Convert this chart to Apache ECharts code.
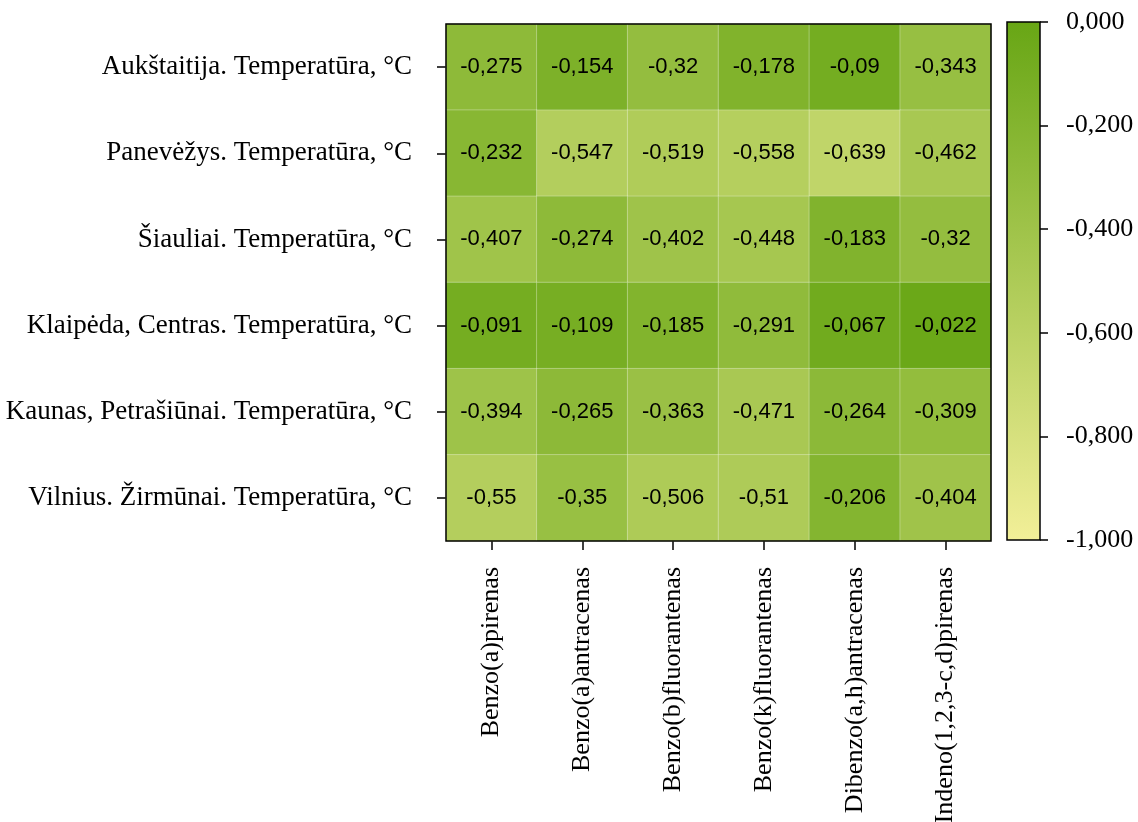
<!DOCTYPE html>
<html>
<head>
<meta charset="utf-8">
<script src="https://cdn.jsdelivr.net/npm/echarts@6/dist/echarts.min.js"></script>
<style>
  html, body { margin: 0; padding: 0; background: #fff; }
  #chart { width: 1138px; height: 822px; }
</style>
</head>
<body>
<div id="chart"></div>
<script>
// stočių eilutės (iš viršaus į apačią)
const stations = [
  "Aukštaitija. Temperatūra, °C",
  "Panevėžys. Temperatūra, °C",
  "Šiauliai. Temperatūra, °C",
  "Klaipėda, Centras. Temperatūra, °C",
  "Kaunas, Petrašiūnai. Temperatūra, °C",
  "Vilnius. Žirmūnai. Temperatūra, °C"
];

const compounds = [
  "Benzo(a)pirenas",
  "Benzo(a)antracenas",
  "Benzo(b)fluorantenas",
  "Benzo(k)fluorantenas",
  "Dibenzo(a,h)antracenas",
  "Indeno(1,2,3-c,d)pirenas"
];

// koreliacijos koeficientai, po vieną eilutę kiekvienai stočiai
const aukstaitija = [-0.275, -0.154, -0.32, -0.178, -0.09, -0.343];
const panevezys = [-0.232, -0.547, -0.519, -0.558, -0.639, -0.462];
const siauliai = [-0.407, -0.274, -0.402, -0.448, -0.183, -0.32];
const klaipeda = [-0.091, -0.109, -0.185, -0.291, -0.067, -0.022];
const kaunas = [-0.394, -0.265, -0.363, -0.471, -0.264, -0.309];
const vilnius = [-0.55, -0.35, -0.506, -0.51, -0.206, -0.404];

const rows = [aukstaitija, panevezys, siauliai, klaipeda, kaunas, vilnius];

// spalvų skalės ribos
const scaleMin = -1;
const scaleMax = 0;
const scaleStep = 0.2;

const lowColor = "#f2ef98";
const highColor = "#68a615";

const cells = [];
rows.forEach((row, r) => {
  row.forEach((v, c) => {
    cells.push([c, r, v]);
  });
});

const serif = "'Liberation Serif', 'Times New Roman', serif";

const chart = echarts.init(document.getElementById("chart"));

chart.setOption({
  animation: false,
  backgroundColor: "#fff",
  grid: [
    { left: 446, right: 147, top: 24, bottom: 281, outerBoundsMode: "none", containLabel: false, show: true, borderColor: "#000", borderWidth: 1.5, backgroundColor: "transparent", z: 10 },
    { left: 1007, width: 33, top: 22, bottom: 282, outerBoundsMode: "none", containLabel: false, show: true, borderColor: "#000", borderWidth: 1.5, z: 10 }
  ],
  xAxis: [
    {
      type: "category",
      data: compounds,
      gridIndex: 0,
      axisLine: { show: false },
      axisTick: { show: true, length: 9, alignWithLabel: true, lineStyle: { color: "#000", width: 1.5 } },
      axisLabel: { rotate: 90, fontFamily: serif, fontSize: 26, color: "#000", margin: 26, interval: 0 },
      splitLine: { show: false }
    },
    {
      type: "category",
      data: [""],
      gridIndex: 1,
      show: false
    }
  ],
  yAxis: [
    {
      type: "category",
      data: stations,
      gridIndex: 0,
      inverse: true,
      axisLine: { show: false },
      axisTick: { show: true, length: 9, alignWithLabel: true, lineStyle: { color: "#000", width: 1.5 } },
      axisLabel: { fontFamily: serif, fontSize: 27, color: "#000", margin: 34, interval: 0 },
      splitLine: { show: false }
    },
    {
      type: "value",
      gridIndex: 1,
      position: "right",
      min: scaleMin,
      max: scaleMax,
      interval: scaleStep,
      axisLine: { show: false },
      axisTick: { show: true, length: 8, inside: false, lineStyle: { color: "#000", width: 1.5 } },
      axisLabel: {
        fontFamily: serif, fontSize: 26, color: "#000", margin: 26,
        formatter: (v) => v.toFixed(3).replace(".", ",").replace("-0,000", "0,000")
      },
      splitLine: { show: false }
    }
  ],
  visualMap: {
    show: false,
    type: "continuous",
    seriesIndex: 0,
    min: scaleMin,
    max: scaleMax,
    inRange: { color: [lowColor, highColor] }
  },
  series: [
    {
      type: "heatmap",
      xAxisIndex: 0,
      yAxisIndex: 0,
      data: cells,
      itemStyle: { borderColor: "rgba(255,255,255,0.3)", borderWidth: 1 },
      label: {
        show: true,
        color: "#000",
        fontFamily: "'Liberation Sans', Arial, sans-serif",
        fontSize: 22,
        formatter: (p) => String(p.value[2]).replace(".", ",")
      },
      emphasis: { disabled: true }
    },
    {
      // spalvų juosta
      type: "bar",
      xAxisIndex: 1,
      yAxisIndex: 1,
      data: [scaleMin],
      barWidth: "100%",
      silent: true,
      itemStyle: {
        color: new echarts.graphic.LinearGradient(0, 0, 0, 1, [
          { offset: 0, color: highColor },
          { offset: 1, color: lowColor }
        ])
      }
    }
  ]
});
</script>
</body>
</html>
